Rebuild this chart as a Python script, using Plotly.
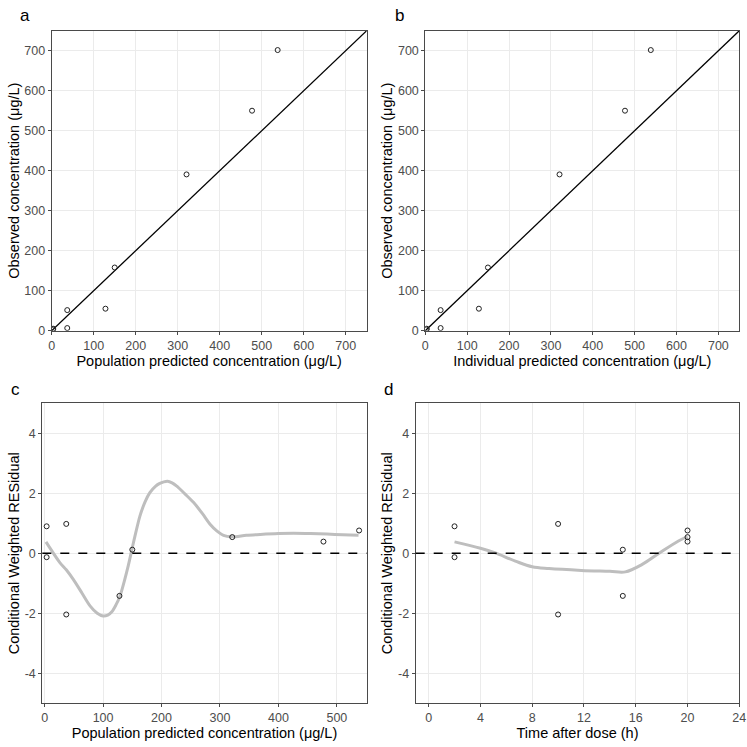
import plotly.graph_objects as go

# ---- data ----
time_h = [2, 2, 10, 10, 15, 15, 20, 20, 20]
pred = [3.4, 3.4, 37, 37, 128, 150, 321, 477, 538]
ipred = [3.2, 3.2, 36.6, 36.6, 128, 149.6, 320.6, 477, 538.6]
obs = [5, 3, 51.5, 6.6, 55, 158, 390.7, 550, 701.6]
cwres = [0.90, -0.13, 0.98, -2.04, -1.42, 0.12, 0.54, 0.39, 0.76]

identity = [0, 750]

smooth_c_x = [2.3, 26, 37, 49, 64, 78, 90, 100, 108, 115, 122, 129, 136, 143, 152, 163, 172, 180, 190, 197, 204, 210, 218, 226, 240, 255, 270, 283, 295, 306, 320, 345, 369, 400, 426, 455, 483, 510, 537]
smooth_c_y = [0.38, -0.31, -0.55, -0.87, -1.33, -1.76, -2.0, -2.09, -2.06, -1.95, -1.72, -1.42, -0.95, -0.42, 0.36, 1.24, 1.72, 2.02, 2.24, 2.33, 2.38, 2.40, 2.35, 2.24, 1.98, 1.69, 1.32, 0.97, 0.74, 0.60, 0.55, 0.60, 0.63, 0.66, 0.67, 0.66, 0.64, 0.62, 0.60]

smooth_d_x = [2, 4, 5.1, 6.7, 8, 9.3, 11.8, 14, 15.2, 16.5, 17.8, 19.3, 20]
smooth_d_y = [0.38, 0.17, 0.02, -0.26, -0.45, -0.51, -0.57, -0.60, -0.62, -0.37, 0.0, 0.41, 0.56]

conc_ticks = [0, 100, 200, 300, 400, 500, 600, 700]
pred_ticks = [0, 100, 200, 300, 400, 500]
time_ticks = [0, 4, 8, 12, 16, 20, 24]
res_ticks = [-4, -2, 0, 2, 4]

W = 747
FONT = "Arial, Liberation Sans, sans-serif"
TICKC = "#4D4D4D"
BORDER = "#4a4a4a"
GRID = "#EBEBEB"

marker = dict(symbol="circle-open", size=5, color="#222222", line=dict(width=1, color="#222222"))

fig = go.Figure()

# panel a
fig.add_trace(go.Scatter(x=identity, y=identity, mode="lines", line=dict(color="black", width=1.3),
                         xaxis="x", yaxis="y", showlegend=False, hoverinfo="skip"))
fig.add_trace(go.Scatter(x=pred, y=obs, mode="markers", marker=marker, xaxis="x", yaxis="y", showlegend=False))
# panel b
fig.add_trace(go.Scatter(x=identity, y=identity, mode="lines", line=dict(color="black", width=1.3),
                         xaxis="x2", yaxis="y2", showlegend=False, hoverinfo="skip"))
fig.add_trace(go.Scatter(x=ipred, y=obs, mode="markers", marker=marker, xaxis="x2", yaxis="y2", showlegend=False))
# panel c
fig.add_trace(go.Scatter(x=smooth_c_x, y=smooth_c_y, mode="lines", line=dict(color="#BEBEBE", width=3, shape="spline", smoothing=0.8),
                         xaxis="x3", yaxis="y3", showlegend=False, hoverinfo="skip"))
fig.add_trace(go.Scatter(x=pred, y=cwres, mode="markers", marker=marker, xaxis="x3", yaxis="y3", showlegend=False))
# panel d
fig.add_trace(go.Scatter(x=smooth_d_x, y=smooth_d_y, mode="lines", line=dict(color="#BEBEBE", width=3, shape="spline", smoothing=1.0),
                         xaxis="x4", yaxis="y4", showlegend=False, hoverinfo="skip"))
fig.add_trace(go.Scatter(x=time_h, y=cwres, mode="markers", marker=marker, xaxis="x4", yaxis="y4", showlegend=False))


def px_dom(a, b):
    return [a / W, b / W]


def py_dom(top, bottom):
    return [1 - bottom / W, 1 - top / W]


def ax(domain, rng, ticks, title, anchor, standoff):
    return dict(
        domain=domain, range=rng, tickvals=ticks, ticktext=[str(t) for t in ticks],
        showgrid=True, gridcolor=GRID, gridwidth=1, zeroline=False,
        showline=True, mirror=True, linecolor=BORDER, linewidth=1,
        ticks="outside", ticklen=3, tickcolor=BORDER, tickwidth=1,
        tickfont=dict(family=FONT, size=12.5, color=TICKC), ticklabeloverflow="allow",
        title=dict(text=title, font=dict(family=FONT, size=14.5, color="black"), standoff=standoff),
        anchor=anchor, automargin=False,
    )


conc_lab = "Observed concentration (μg/L)"
res_lab = "Conditional Weighted RESidual"

fig.update_layout(
    width=W, height=W, margin=dict(l=0, r=0, t=0, b=0),
    paper_bgcolor="white", plot_bgcolor="white",
    font=dict(family=FONT),
    xaxis=ax(px_dom(51.7, 366.7), [0, 750], conc_ticks, "Population predicted concentration (μg/L)", "y", 2),
    yaxis=ax(py_dom(30.7, 330.7), [0, 750], conc_ticks, conc_lab, "x", 1),
    xaxis2=ax(px_dom(425.3, 739.3), [0, 750], conc_ticks, "Individual predicted concentration (μg/L)", "y2", 2),
    yaxis2=ax(py_dom(30.7, 330.7), [0, 750], conc_ticks, conc_lab, "x2", 1),
    xaxis3=ax(px_dom(42.3, 366.7), [-4, 551], pred_ticks, "Population predicted concentration (μg/L)", "y3", 2),
    yaxis3=ax(py_dom(403.3, 703.3), [-5, 5], res_ticks, res_lab, "x3", 1),
    xaxis4=ax(px_dom(415.7, 739.3), [-1, 24], time_ticks, "Time after dose (h)", "y4", 2),
    yaxis4=ax(py_dom(403.3, 703.3), [-5, 5], res_ticks, res_lab, "x4", 1),
)

for xr, yr in [("x3", "y3"), ("x4", "y4")]:
    fig.add_shape(type="line", xref=xr + " domain", yref=yr, x0=0, x1=1, y0=0, y1=0,
                  line=dict(color="black", width=1.5, dash="dash"))

for lab, x, y in [("a", 25, 15), ("b", 399, 15), ("c", 15, 389), ("d", 388, 389)]:
    fig.add_annotation(text=lab, x=x / W, y=1 - y / W, xref="paper", yref="paper",
                       showarrow=False, font=dict(family=FONT, size=17, color="black"),
                       xanchor="center", yanchor="middle")

# remove the default page margin so the 747px figure fills the window exactly
fig.write_html("out.html", config={"displayModeBar": False},
               post_script="document.body.style.margin='0';")
